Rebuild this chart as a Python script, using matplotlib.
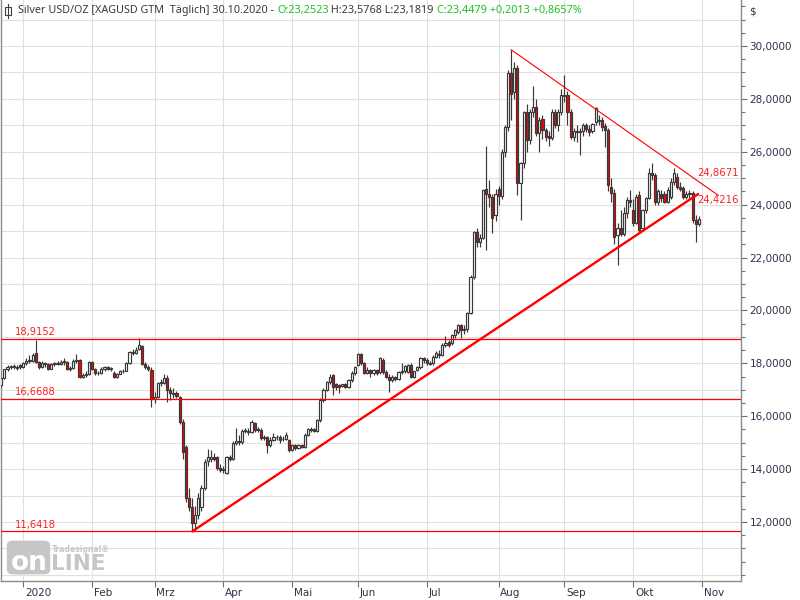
import matplotlib
matplotlib.use('Agg')
import matplotlib.pyplot as plt
import numpy as np
import pandas as pd
from matplotlib.patches import Rectangle, FancyBboxPatch
from matplotlib.lines import Line2D

# ---------------- data ----------------
opens = [
    17.18, 17.43, 17.78, 17.85, 17.90, 17.88, 17.92,                                   # Dec
    17.85, 18.00, 18.10, 18.10, 18.38, 18.05, 17.87, 18.00, 17.97, 17.80, 17.97, 18.00,
    17.98, 18.05, 18.05, 17.80, 17.82, 18.10, 18.12, 17.50, 17.55, 17.60,               # Jan
    18.05, 17.80, 17.62, 17.65, 17.80, 17.85, 17.78, 17.65, 17.50, 17.60, 17.70, 17.72,
    18.00, 18.42, 18.40, 18.55, 18.65, 17.98, 17.85, 17.75,                             # Feb
    16.65, 16.72, 17.25, 17.25, 17.44, 17.00, 16.88, 16.88, 16.72, 15.78, 14.83, 12.90,
    12.56, 11.96, 12.26, 12.56, 13.28, 14.30, 14.40, 14.45, 14.45, 14.04,               # Mar
    13.96, 13.85, 14.45, 14.40, 15.00, 15.05, 15.02, 15.45, 15.45, 15.40, 15.74, 15.48,
    15.48, 15.17, 15.20, 14.90, 15.10, 15.20, 15.22, 15.15, 15.12, 15.10,               # Apr
    14.72, 14.90, 14.78, 14.90, 14.85, 15.30, 15.50, 15.50, 15.45, 15.85, 16.60, 17.00,
    17.30, 17.55, 17.20, 17.17, 17.15, 17.20, 17.10, 17.36, 17.62,                      # May
    17.95, 18.35, 18.03, 17.62, 17.75, 17.62, 17.75, 17.67, 18.12, 17.67, 17.48, 17.36,
    17.48, 17.42, 17.67, 17.70, 17.67, 17.94, 17.50, 17.75, 17.86, 18.20,               # Jun
    18.12, 18.00, 18.00, 18.25, 18.30, 18.31, 18.70, 18.82, 18.77, 19.07, 19.18, 19.45,
    19.26, 19.30, 19.90, 21.26, 22.96, 22.60, 22.74, 24.60, 24.40, 24.29, 23.60,        # Jul
    24.60, 24.33, 25.99, 26.94, 28.98, 28.26, 29.17, 24.82, 25.57, 27.50, 26.44, 27.50,
    27.70, 26.70, 27.24, 26.82, 26.60, 26.52, 27.50, 27.00, 27.50,                      # Aug
    28.10, 28.15, 27.50, 26.56, 26.80, 26.75, 26.80, 27.00, 26.88, 26.80, 27.13, 27.20,
    27.20, 26.99, 26.82, 24.67, 24.44, 22.85, 23.12, 22.90, 23.68, 24.18,               # Sep
    23.80, 23.30, 24.36, 23.10, 23.80, 24.25, 25.20, 25.12, 24.10, 24.40, 24.40, 24.10,
    24.29, 24.86, 25.04, 24.67, 24.63, 24.29, 24.40, 24.44, 23.42, 23.2523,             # Oct
]
highs = [
    17.45, 17.80, 17.92, 17.95, 17.98, 17.95, 17.96,
    18.05, 18.20, 18.30, 18.40, 18.88, 18.10, 18.10, 18.05, 18.00, 18.00, 18.05, 18.10,
    18.12, 18.20, 18.10, 17.90, 18.15, 18.35, 18.15, 17.65, 17.70, 18.10,
    18.08, 17.82, 17.72, 17.85, 17.90, 17.90, 17.88, 17.70, 17.65, 17.75, 17.78, 18.05,
    18.45, 18.55, 18.60, 18.95, 18.70, 18.05, 17.95, 17.85,
    16.90, 17.30, 17.40, 17.60, 17.55, 17.10, 17.05, 16.95, 16.75, 15.90, 14.90, 13.30,
    12.90, 12.60, 13.10, 13.40, 14.40, 14.75, 14.72, 14.60, 14.50, 14.20,
    14.10, 14.50, 14.55, 15.05, 15.55, 15.30, 15.50, 15.55, 15.55, 15.85, 15.80, 15.60,
    15.55, 15.30, 15.25, 15.20, 15.35, 15.30, 15.30, 15.25, 15.40, 15.15,
    14.95, 14.95, 14.95, 14.95, 15.35, 15.55, 15.60, 15.55, 15.90, 16.70, 17.05, 17.35,
    17.60, 17.60, 17.25, 17.22, 17.22, 17.25, 17.40, 17.70, 17.90,
    18.40, 18.40, 18.05, 17.85, 17.80, 17.80, 17.80, 18.25, 18.20, 17.75, 17.60, 17.55,
    17.52, 17.70, 18.02, 17.95, 17.98, 18.00, 17.72, 17.90, 18.25, 18.25,
    18.20, 18.10, 18.30, 18.45, 18.50, 18.75, 19.03, 18.90, 19.10, 19.30, 19.50, 19.50,
    19.45, 19.95, 21.35, 23.00, 23.10, 22.90, 24.60, 26.20, 24.93, 24.40, 24.60,
    24.70, 26.10, 27.00, 29.10, 29.86, 29.40, 29.30, 25.60, 27.55, 27.80, 27.60, 28.49,
    28.00, 27.30, 27.40, 26.90, 26.80, 27.60, 27.60, 27.60, 28.37,
    28.90, 28.30, 27.60, 26.90, 27.00, 26.90, 27.10, 27.10, 27.00, 27.10, 27.70, 27.40,
    27.30, 27.10, 26.90, 25.00, 24.60, 23.30, 23.80, 23.90, 24.30, 24.55,
    24.20, 24.40, 24.50, 23.85, 24.30, 25.40, 25.57, 25.20, 24.60, 24.55, 24.50, 24.65,
    25.00, 25.38, 25.20, 24.85, 24.70, 24.50, 24.55, 24.50, 23.60, 23.5768,
]
lows = [
    17.10, 17.40, 17.70, 17.80, 17.80, 17.75, 17.80,
    17.83, 17.95, 18.00, 18.05, 18.00, 17.80, 17.82, 17.85, 17.75, 17.78, 17.90, 17.92,
    17.95, 17.95, 17.75, 17.72, 17.78, 18.00, 17.45, 17.45, 17.50, 17.55,
    17.75, 17.55, 17.55, 17.60, 17.72, 17.75, 17.70, 17.45, 17.45, 17.58, 17.62, 17.70,
    17.98, 18.30, 18.35, 18.50, 17.95, 17.80, 17.70, 16.35,
    16.50, 16.70, 17.15, 17.20, 16.55, 16.60, 16.70, 16.70, 15.70, 14.40, 12.75, 12.40,
    11.64, 11.70, 12.10, 12.40, 13.20, 14.10, 14.25, 14.30, 13.95, 13.90,
    13.85, 13.80, 14.30, 14.35, 14.90, 14.90, 14.95, 15.38, 15.30, 15.35, 15.40, 15.40,
    15.10, 15.10, 14.60, 14.85, 15.05, 15.10, 15.00, 15.05, 15.10, 14.65,
    14.70, 14.72, 14.75, 14.78, 14.80, 15.25, 15.40, 15.40, 15.42, 15.80, 16.55, 16.95,
    17.20, 16.80, 17.00, 16.86, 17.10, 17.05, 17.05, 17.30, 17.55,
    17.90, 17.95, 17.58, 17.60, 17.50, 17.55, 17.55, 17.60, 17.60, 17.45, 16.90, 17.30,
    17.35, 17.38, 17.60, 17.65, 17.62, 17.45, 17.45, 17.70, 17.80, 18.00,
    17.95, 17.92, 17.95, 18.20, 18.20, 18.28, 18.60, 18.60, 18.70, 18.95, 19.10, 18.96,
    19.10, 19.20, 19.85, 21.20, 22.41, 22.40, 22.70, 22.30, 23.90, 22.93, 23.40,
    24.00, 24.20, 25.80, 26.80, 27.20, 28.00, 24.36, 23.42, 25.40, 26.00, 26.30, 27.30,
    26.60, 26.00, 26.50, 26.40, 26.20, 26.45, 26.90, 26.80, 27.40,
    27.90, 27.00, 26.50, 26.40, 26.38, 25.88, 26.60, 26.75, 26.60, 26.70, 27.00, 27.00,
    26.80, 26.19, 24.50, 24.10, 22.50, 21.70, 22.80, 22.80, 23.50, 23.90,
    23.20, 23.25, 22.95, 23.00, 23.70, 24.20, 24.95, 24.00, 24.00, 24.10, 24.05, 24.05,
    24.20, 24.75, 24.60, 24.50, 24.20, 24.20, 24.25, 23.30, 22.59, 23.1819,
]
closes = [
    17.43, 17.78, 17.85, 17.90, 17.88, 17.82, 17.85,
    18.00, 18.10, 18.12, 18.30, 18.05, 17.87, 18.00, 17.97, 17.80, 17.97, 18.00, 17.98,
    18.05, 18.10, 17.80, 17.82, 18.10, 18.12, 17.50, 17.55, 17.60, 18.05,
    17.80, 17.62, 17.65, 17.80, 17.85, 17.78, 17.82, 17.50, 17.60, 17.70, 17.72, 18.00,
    18.42, 18.40, 18.50, 18.70, 17.98, 17.85, 17.80, 16.65,
    16.72, 17.25, 17.30, 17.44, 17.00, 16.88, 16.85, 16.76, 15.78, 14.64, 12.90, 12.56,
    11.96, 12.26, 12.90, 13.28, 14.27, 14.45, 14.45, 14.40, 14.04, 13.96,
    14.00, 14.45, 14.40, 15.00, 15.05, 15.02, 15.45, 15.45, 15.40, 15.78, 15.48, 15.50,
    15.17, 15.22, 14.90, 15.10, 15.20, 15.22, 15.10, 15.12, 15.30, 14.72,
    14.90, 14.78, 14.90, 14.85, 15.30, 15.50, 15.48, 15.45, 15.85, 16.60, 16.99, 17.30,
    17.50, 17.10, 17.12, 17.10, 17.20, 17.12, 17.36, 17.62, 17.86,
    18.35, 18.03, 17.62, 17.75, 17.62, 17.75, 17.62, 18.20, 17.67, 17.48, 17.36, 17.48,
    17.40, 17.67, 17.70, 17.90, 17.94, 17.49, 17.70, 17.86, 18.20, 18.12,
    18.00, 17.98, 18.25, 18.38, 18.35, 18.70, 18.78, 18.70, 19.07, 19.26, 19.45, 19.26,
    19.30, 19.90, 21.26, 22.96, 22.59, 22.74, 24.55, 24.40, 24.30, 23.50, 24.40,
    24.33, 25.99, 26.94, 28.98, 28.20, 29.17, 24.82, 25.57, 27.50, 26.44, 27.50, 27.70,
    26.70, 27.20, 26.82, 26.56, 26.52, 27.50, 27.00, 27.50, 28.15,
    28.15, 27.50, 26.56, 26.80, 26.75, 26.80, 27.00, 26.88, 26.75, 27.05, 27.66, 27.15,
    26.95, 26.82, 24.74, 24.44, 22.78, 23.12, 22.90, 23.68, 24.18, 24.10,
    23.30, 24.30, 23.04, 23.80, 24.25, 25.20, 25.12, 24.10, 24.50, 24.25, 24.10, 24.55,
    24.86, 25.20, 24.67, 24.58, 24.29, 24.40, 24.44, 23.42, 23.25, 23.4479,
]

holidays = ['2019-12-25', '2020-01-01']
month_starts = ['2020-01-01', '2020-02-01', '2020-03-01', '2020-04-01', '2020-05-01',
                '2020-06-01', '2020-07-01', '2020-08-01', '2020-09-01', '2020-10-01',
                '2020-11-01']
month_labels = ['2020', 'Feb', 'Mrz', 'Apr', 'Mai', 'Jun', 'Jul', 'Aug', 'Sep', 'Okt', 'Nov']

level_values = [18.9152, 16.6688, 11.6418]
level_labels = ['18,9152', '16,6688', '11,6418']

support_dates = ['2020-03-18', '2020-10-30']
support_values = [11.6418, 24.4216]
resist_dates = ['2020-08-07', '2020-10-30']
resist_values = [29.86, 24.8671]
resist_extend_bars = 6.2

title_parts = [
    ("Silver USD/OZ [XAGUSD GTM  T\u00e4glich] 30.10.2020 - ", '#3a3a3a'),
    ("O:23,2523", '#1fbf1f'),
    (" H:23,5768 L:23,1819 ", '#3a3a3a'),
    ("C:23,4479 +0,2013 +0,8657%", '#1fbf1f'),
]

# ---------------- setup ----------------
dates = pd.bdate_range('2019-12-20', '2020-10-30')
dates = dates[~dates.isin(pd.to_datetime(holidays))]
o = np.array(opens); h = np.array(highs); l = np.array(lows); c = np.array(closes)
n = len(dates)
assert n == len(o) == len(h) == len(l) == len(c), (n, len(o), len(h), len(l), len(c))
xs = np.arange(n)

def idx(d):
    return int(np.searchsorted(dates.values, np.datetime64(pd.Timestamp(d))))

tick_pos = [idx(d) for d in month_starts]

W, H = 800, 600
fig = plt.figure(figsize=(8, 6), dpi=100)
fig.patch.set_facecolor('white')
ax_left, ax_right, ax_bottom, ax_top = 0.5, 741, 581, 0
ax = fig.add_axes([ax_left / W, 1 - ax_bottom / H, (ax_right - ax_left) / W, (ax_bottom - ax_top) / H])

px_per_bar = 3.128
x0_px = 1.304
ax.set_xlim((ax_left - x0_px) / px_per_bar, (ax_right - x0_px) / px_per_bar)
ppu = 26.444
ax.set_ylim(30 - (581 - 46) / ppu, 30 + 46 / ppu)

# grid
for t in tick_pos:
    ax.axvline(t, color='#e0e0e0', lw=0.8, zorder=0)
for yv in range(10, 32):
    ax.axhline(yv, color='#e0e0e0', lw=0.8, zorder=0)

# watermark
wm_col = '#c6c6c6'
box = FancyBboxPatch((10 / W, 1 - 572 / H), 37 / W, 29 / H,
                     boxstyle='round,pad=0.004,rounding_size=0.008',
                     transform=fig.transFigure, facecolor=wm_col, edgecolor='none', zorder=1)
ax.add_artist(box)
box.set_clip_on(False)
ax.text(29.5 / W, 1 - 563 / H, 'on', transform=fig.transFigure, fontsize=19, fontweight='bold',
        color='white', ha='center', va='center', zorder=1.5, family='DejaVu Sans')
ax.text(51 / W, 1 - 564 / H, 'LINE', transform=fig.transFigure, fontsize=15.5, fontweight='bold',
        color=wm_col, ha='left', va='center', zorder=1.5, family='DejaVu Sans')
ax.text(52 / W, 1 - 549 / H, 'Tradesignal\u00ae', transform=fig.transFigure, fontsize=5.5,
        fontweight='bold', color=wm_col, ha='left', va='center', zorder=1.5)

# horizontal levels
red = '#ff0000'
lab_red = '#ff1f1f'
for v, lab in zip(level_values, level_labels):
    ax.axhline(v, color=red, lw=0.9, zorder=5)
    ax.text((15 - x0_px) / px_per_bar, v + 0.07, lab, color=lab_red, fontsize=7.1,
            ha='left', va='bottom', zorder=6)

# candles
edge = '#383838'
ax.vlines(xs, np.minimum(l, np.minimum(o, c)), np.maximum(h, np.maximum(o, c)),
          color=edge, lw=0.85, zorder=3)
body_low = np.minimum(o, c)
body_h = np.maximum(np.abs(c - o), 0.015)
colors = np.where(c >= o, 'white', red)
ax.bar(xs, body_h, bottom=body_low, width=0.68, color=colors, edgecolor=edge,
       linewidth=0.85, zorder=4)

# trend lines
s0, s1 = idx(support_dates[0]), idx(support_dates[1])
ax.plot([s0, s1], support_values, color=red, lw=1.7, zorder=7, solid_capstyle='butt')
r0, r1 = idx(resist_dates[0]), idx(resist_dates[1])
slope = (resist_values[1] - resist_values[0]) / (r1 - r0)
r_end = r1 + resist_extend_bars
ax.plot([r0, r_end], [resist_values[0], resist_values[1] + slope * resist_extend_bars],
        color=red, lw=0.8, zorder=7)
lab_x = (697 - x0_px) / px_per_bar
ax.text(lab_x, resist_values[1] + 0.13, '24,8671', color=lab_red, fontsize=7.3,
        ha='left', va='bottom', zorder=8)
ax.text(lab_x, support_values[1] - 0.05, '24,4216', color=lab_red, fontsize=7.3,
        ha='left', va='top', zorder=8)

# axes styling
ax.spines['top'].set_visible(False)
for side in ['left', 'bottom', 'right']:
    ax.spines[side].set_color('#8a8a8a')
    ax.spines[side].set_linewidth(1.0)

axis_col = '#30304a'
ax.yaxis.tick_right()
ax.set_yticks(np.arange(12, 31, 2))
ax.set_yticklabels([f"{v:.4f}".replace('.', ',') for v in np.arange(12, 31, 2)])
ax.set_yticks(np.arange(10, 31.6, 0.5), minor=True)
ax.tick_params(axis='y', which='major', length=4, width=0.8, color='#707070',
               labelsize=7.5, labelcolor=axis_col, pad=2)
ax.tick_params(axis='y', which='minor', length=3, width=0.8, color='#707070')

ax.set_xticks(tick_pos)
ax.set_xticklabels([])
ax.tick_params(axis='x', which='major', length=4, width=0.8, color='#707070')
for t, lab in zip(tick_pos, month_labels):
    ax.text(t + 0.55, -11.7 / 581, lab, transform=ax.get_xaxis_transform(),
            fontsize=7.5, color=axis_col, ha='left', va='center', clip_on=False)

fig.text(749 / W, 1 - 11 / H, '$', fontsize=7.5, color=axis_col, ha='left', va='center')

# title with coloured parts
fig.canvas.draw()
renderer = fig.canvas.get_renderer()
xpos = 18.0
for txt, col in title_parts:
    t = fig.text(xpos / W, 1 - 11 / H, txt, fontsize=7.8, color=col, ha='left', va='center',
                 family='Noto Sans')
    bb = t.get_window_extent(renderer=renderer)
    xpos += bb.width

# title icon (small candle symbol)
fig.add_artist(Line2D([7.5 / W, 7.5 / W], [1 - 4 / H, 1 - 18 / H], color='#404040', lw=0.8,
                      transform=fig.transFigure))
fig.add_artist(Rectangle((4.5 / W, 1 - 14.5 / H), 6 / W, 7 / H, transform=fig.transFigure,
                         facecolor='white', edgecolor='#404040', lw=0.8))

fig.savefig('out.png', dpi=100, facecolor='white')
